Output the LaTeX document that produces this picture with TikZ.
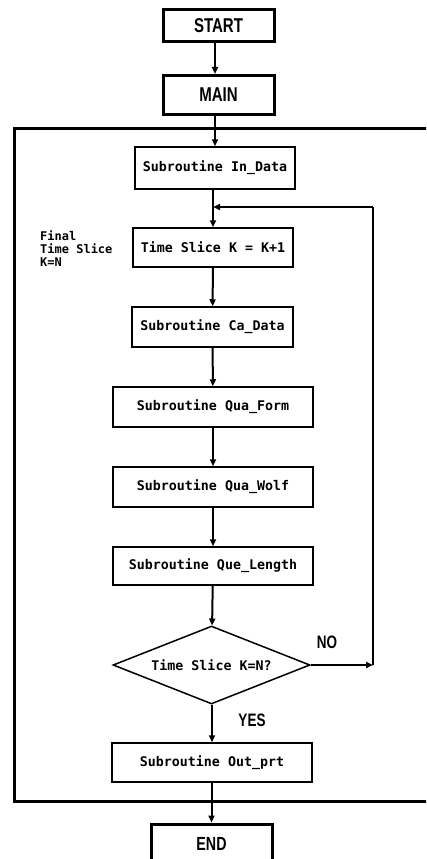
\documentclass[tikz,border=0pt]{standalone}
\usepackage{fontspec}
\usetikzlibrary{shapes.geometric,arrows.meta}
\newfontfamily\hdfont[FakeStretch=0.75]{Liberation Sans Bold}
\newfontfamily\bodyfont{DejaVu Sans Mono Bold}
\tikzset{
  x=1pt,y=-1pt,
  bigbox/.style={draw,line width=3pt,inner sep=0pt,font=\hdfont\fontsize{20}{20}\selectfont},
  subbox/.style={draw,line width=1.5pt,inner sep=0pt,font=\bodyfont\fontsize{13.3}{14}\selectfont},
  decide/.style={draw,diamond,line width=1.5pt,inner sep=0pt,aspect=2.5,font=\bodyfont\fontsize{13.3}{14}\selectfont},
  arr/.style={line width=2pt,-{Triangle[length=7pt,width=6pt]}},
  ln/.style={line width=2pt},
  frame/.style={line width=3pt},
  lbl/.style={font=\hdfont\fontsize{18}{18}\selectfont,inner sep=0pt},
  note/.style={font=\bodyfont\fontsize{12}{13}\selectfont,align=left,inner sep=0pt,anchor=north west}
}
\begin{document}
\begin{tikzpicture}
\clip (0,0) rectangle (426,859);
\fill[white] (0,0) rectangle (426,859);
% outer frame (right side runs off the picture)
\draw[frame] (440,128) -- (14,128) -- (14,801) -- (440,801);
\node[bigbox,minimum width=111,minimum height=32] (start) at (218.5,26) {START};
\node[bigbox,minimum width=111,minimum height=39] (main) at (218.5,95) {MAIN};
\node[subbox,minimum width=160,minimum height=42] (in) at (215,168) {Subroutine In\_Data};
\node[subbox,minimum width=160,minimum height=39] (ts) at (213,247.5) {Time Slice K = K+1};
\node[subbox,minimum width=161,minimum height=40] (ca) at (212.5,327) {Subroutine Ca\_Data};
\node[subbox,minimum width=200,minimum height=40] (qf) at (213,407) {Subroutine Qua\_Form};
\node[subbox,minimum width=200,minimum height=40] (qw) at (213,487) {Subroutine Qua\_Wolf};
\node[subbox,minimum width=200,minimum height=38] (ql) at (213,566) {Subroutine Que\_Length};
\node[decide,minimum width=197,minimum height=78] (dec) at (211.5,665) {Time Slice K=N?};
\node[subbox,minimum width=200,minimum height=39] (out) at (212,762.5) {Subroutine Out\_prt};
\node[bigbox,minimum width=121,minimum height=40,font=\hdfont\fontsize{19}{19}\selectfont] (end) at (211.5,844) {END};
\node[note] (fin) at (40,231) {Final\\Time Slice\\K=N};
\node[lbl] (no) at (327,642) {NO};
\node[lbl] (yes) at (252,720) {YES};
% connectors
\draw[arr] (start.south -| in.north) -- (main.north -| in.north);
\draw[arr] (main.south -| in.north) -- (in.north);
\draw[arr] (in.south -| ts.north) -- (ts.north);
\draw[arr] (ts) -- (ca);
\draw[arr] (ca) -- (qf);
\draw[arr] (qf) -- (qw);
\draw[arr] (qw) -- (ql);
\draw[arr] (ql) -- (dec);
\coordinate (nr) at (373,665);
\coordinate (tr) at (373,207);
\coordinate (join) at (213,207);
\draw[arr] (dec.east) -- (nr);
\draw[ln] (nr) -- (tr);
\draw[arr] (tr) -- (join);
\draw[arr] (dec.south -| out.north) -- (out.north);
\draw[arr] (out.south -| end.north) -- (end.north);
\end{tikzpicture}
\end{document}
